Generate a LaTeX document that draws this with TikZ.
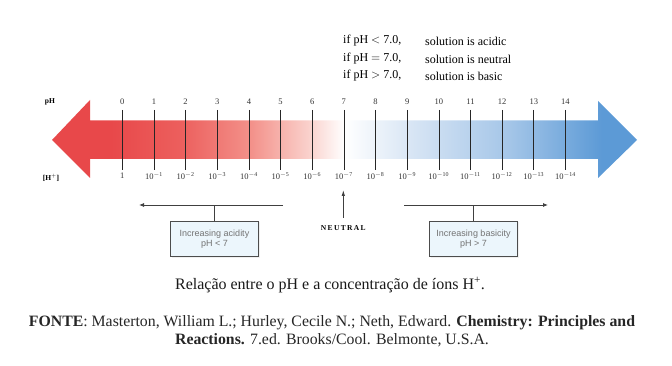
\documentclass[tikz,border=0pt]{standalone}
\usepackage{fontspec}
\setmainfont{Liberation Serif}
\setsansfont{Liberation Sans}
\usetikzlibrary{arrows.meta, positioning, shadows}

\definecolor{acidred}{RGB}{232,72,74}
\definecolor{baseblue}{RGB}{92,154,214}
\definecolor{boxfill}{RGB}{236,246,252}
\pgfdeclarehorizontalshading{phshade}{100bp}{color(0bp)=(acidred); color(30bp)=(acidred);
    color(36bp)=(rgb,255:red,236;green,95;blue,93); color(42bp)=(rgb,255:red,243;green,145;blue,138);
    color(47bp)=(rgb,255:red,250;green,210;blue,205); color(50bp)=(white);
    color(56bp)=(rgb,255:red,214;green,228;blue,244); color(64bp)=(rgb,255:red,165;green,198;blue,232);
    color(72bp)=(baseblue); color(100bp)=(baseblue)}

\begin{document}
\begin{tikzpicture}[
    x=1pt, y=-1pt,
    tick/.style={draw=black!85, line width=0.6pt},
    scalelab/.style={font=\fontsize{8.5}{9}\selectfont, text=black!80, inner sep=1pt},
    axisname/.style={font=\bfseries\fontsize{7.5}{8}\selectfont, inner sep=1pt},
    rule/.style={font=\fontsize{12}{14}\selectfont, anchor=west, inner sep=0pt},
    infobox/.style={rectangle, draw=black!70, fill=boxfill, minimum width=88pt, minimum height=35pt, align=center, font=\sffamily\fontsize{9}{9.5}\selectfont, text=black!55, drop shadow={opacity=0.12, shadow xshift=1pt, shadow yshift=-1pt}},
    side/.style={draw=black!75, line width=0.8pt},
    arrow/.style={side, -{Latex[length=5pt, width=4pt]}}
]
\useasboundingbox (0,0) rectangle (672,366);

% Rules at the top
\node[rule] (acidif) at (343,41) {if pH $<$ 7.0,};
\node[rule] (neutif) at (343,59) {if pH $=$ 7.0,};
\node[rule] (baseif) at (343,76) {if pH $>$ 7.0,};
\node[rule] (acidis) at (425,41) {solution is acidic};
\node[rule] (neutis) at (425,59) {solution is neutral};
\node[rule] (baseis) at (425,76) {solution is basic};

% The pH scale
\shade[shading=phshade] (52,140) -- (90,100) -- (90,120.5) -- (598,120.5) -- (598,101) -- (637,140)
    -- (598,178) -- (598,159) -- (90,159) -- (90,178) -- cycle;
\node[axisname] (phname) at (50,102) {pH};
\node[axisname] (hname) at (51,178) {[H$^{\mathbf{+}}$]};
\foreach \i in {0,...,14} {
    \draw[tick] ({122.3+31.65*\i},110) -- ({122.3+31.65*\i},170);
    \node[scalelab] (p\i) at ({122.3+31.65*\i},101.5) {\i};
    \node[scalelab] (h\i) at ({122.3+31.65*\i},176) {\ifnum\i=0 1\else 10\textsuperscript{$-$\i}\fi};
}

% Acid and base sides
\coordinate (acidend) at (283,205);
\coordinate (acidtip) at (139,205);
\coordinate (basestart) at (404,205);
\coordinate (basetip) at (548,205);
\node[infobox] (acidbox) at (214.5,239) {Increasing acidity\\pH < 7};
\node[infobox] (basebox) at (473.5,239) {Increasing basicity\\pH > 7};
\node[axisname, font=\bfseries\fontsize{7.5}{8}\selectfont\addfontfeature{LetterSpace=18}] (neutral) at (343.3,228) {NEUTRAL};
\coordinate (neutraltip) at (343.3,190);

\draw[arrow] (acidend) -- (acidtip);
\draw[arrow] (basestart) -- (basetip);
\draw[side, thin] (acidbox.north) -- (acidbox.north |- acidend);
\draw[side, thin] (basebox.north) -- (basebox.north |- basestart);
\draw[arrow, -{Latex[length=6pt, width=3.5pt]}] ([yshift=6.5pt]neutral.north) -- (neutraltip);

% Caption and source
\node[font=\fontsize{16}{18}\selectfont, text=black!90] (caption) at (330,285)
    {Relação entre o pH e a concentração de íons H\textsuperscript{+}.};
\node[font=\fontsize{15.8}{18}\selectfont, text=black!85, align=center] (source) at (332,331)
    {\textbf{FONTE}: Masterton, William L.; Hurley, Cecile N.; Neth, Edward. \textbf{Chemistry: Principles and}\\
     \textbf{Reactions.} 7.ed. Brooks/Cool. Belmonte, U.S.A.};
\end{tikzpicture}
\end{document}
